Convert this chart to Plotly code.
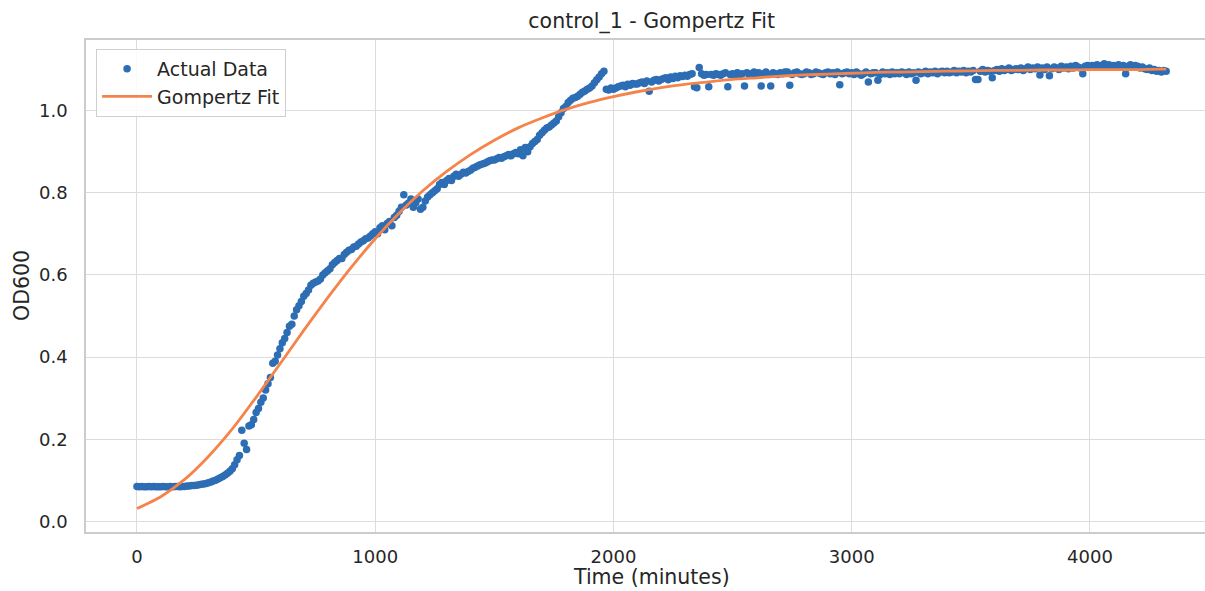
import plotly.graph_objects as go

# ---------------- data ----------------
time_min = list(range(0, 4321, 10))  # sampling times, minutes

od600 = [
    0.085, 0.084, 0.085, 0.084, 0.084, 0.085, 0.084, 0.085, 0.084, 0.084,
    0.084, 0.085, 0.084, 0.084, 0.085, 0.084, 0.085, 0.085, 0.084, 0.085,
    0.085, 0.086, 0.086, 0.087, 0.087, 0.088, 0.089, 0.090, 0.091, 0.092,
    0.094, 0.096, 0.098, 0.100, 0.103, 0.106, 0.109, 0.113, 0.117, 0.122,
    0.128, 0.138, 0.150, 0.160, 0.222, 0.190, 0.175, 0.232, 0.235, 0.248,
    0.265, 0.275, 0.290, 0.300, 0.320, 0.335, 0.350, 0.385, 0.390, 0.405,
    0.420, 0.435, 0.445, 0.460, 0.475, 0.480, 0.500, 0.515, 0.525, 0.535,
    0.548, 0.555, 0.563, 0.575, 0.580, 0.583, 0.585, 0.590, 0.600, 0.605,
    0.610, 0.615, 0.625, 0.630, 0.635, 0.640, 0.640, 0.650, 0.655, 0.660,
    0.662, 0.668, 0.670, 0.675, 0.680, 0.683, 0.688, 0.690, 0.695, 0.700,
    0.705, 0.700, 0.715, 0.720, 0.710, 0.725, 0.730, 0.720, 0.740, 0.745,
    0.755, 0.765, 0.795, 0.770, 0.775, 0.785, 0.765, 0.775, 0.785, 0.760,
    0.765, 0.780, 0.790, 0.795, 0.800, 0.805, 0.810, 0.820, 0.825, 0.820,
    0.830, 0.835, 0.830, 0.840, 0.845, 0.840, 0.845, 0.850, 0.848, 0.852,
    0.855, 0.860, 0.862, 0.865, 0.868, 0.870, 0.872, 0.875, 0.878, 0.880,
    0.880, 0.883, 0.886, 0.884, 0.888, 0.890, 0.893, 0.890, 0.895, 0.898,
    0.895, 0.905, 0.890, 0.910, 0.900, 0.912, 0.920, 0.925, 0.930, 0.940,
    0.946, 0.952, 0.958, 0.960, 0.965, 0.970, 0.975, 0.985, 0.995, 1.005,
    1.010, 1.020, 1.025, 1.030, 1.032, 1.035, 1.040, 1.045, 1.048, 1.052,
    1.055, 1.060, 1.068, 1.075, 1.082, 1.090, 1.096, 1.052, 1.050, 1.055,
    1.052, 1.055, 1.058, 1.060, 1.062, 1.058, 1.064, 1.062, 1.066, 1.065,
    1.065, 1.068, 1.070, 1.066, 1.072, 1.047, 1.070, 1.074, 1.076, 1.072,
    1.076, 1.078, 1.080, 1.075, 1.082, 1.078, 1.084, 1.080, 1.085, 1.083,
    1.086, 1.084, 1.088, 1.090, 1.058, 1.056, 1.105, 1.090, 1.086, 1.088,
    1.058, 1.088, 1.086, 1.090, 1.088, 1.086, 1.090, 1.092, 1.058, 1.088,
    1.090, 1.088, 1.092, 1.086, 1.090, 1.060, 1.092, 1.088, 1.090, 1.094,
    1.088, 1.092, 1.060, 1.090, 1.094, 1.088, 1.060, 1.092, 1.090, 1.088,
    1.092, 1.090, 1.094, 1.094, 1.062, 1.088, 1.092, 1.094, 1.090, 1.088,
    1.090, 1.094, 1.092, 1.088, 1.090, 1.094, 1.092, 1.090, 1.088, 1.092,
    1.094, 1.090, 1.092, 1.088, 1.094, 1.063, 1.090, 1.092, 1.094, 1.090,
    1.092, 1.088, 1.094, 1.090, 1.086, 1.090, 1.094, 1.070, 1.090, 1.092,
    1.092, 1.074, 1.088, 1.094, 1.090, 1.092, 1.088, 1.094, 1.090, 1.092,
    1.090, 1.094, 1.092, 1.088, 1.094, 1.090, 1.092, 1.074, 1.094, 1.090,
    1.092, 1.096, 1.090, 1.094, 1.092, 1.096, 1.090, 1.094, 1.096, 1.092,
    1.096, 1.092, 1.094, 1.098, 1.092, 1.096, 1.094, 1.098, 1.092, 1.096,
    1.094, 1.098, 1.076, 1.076, 1.096, 1.100, 1.094, 1.098, 1.096, 1.080,
    1.098, 1.100, 1.096, 1.102, 1.098, 1.100, 1.104, 1.098, 1.100, 1.102,
    1.100, 1.104, 1.098, 1.102, 1.106, 1.100, 1.104, 1.102, 1.106, 1.087,
    1.104, 1.100, 1.106, 1.085, 1.102, 1.106, 1.104, 1.100, 1.108, 1.104,
    1.106, 1.102, 1.108, 1.104, 1.110, 1.106, 1.104, 1.090, 1.108, 1.110,
    1.106, 1.110, 1.108, 1.112, 1.106, 1.110, 1.114, 1.108, 1.112, 1.106,
    1.110, 1.108, 1.112, 1.106, 1.110, 1.090, 1.108, 1.112, 1.106, 1.110,
    1.108, 1.104, 1.106, 1.102, 1.100, 1.104, 1.098, 1.100, 1.096, 1.098,
    1.094, 1.098, 1.096,
]

fit_time = [0, 100, 200, 300, 400, 500, 600, 700, 800, 900,
            1000, 1100, 1200, 1300, 1400, 1500, 1600, 1700, 1800, 1900,
            2000, 2100, 2200, 2300, 2400, 2500, 2600, 2700, 2800, 2900,
            3000, 3100, 3200, 3300, 3400, 3500, 3600, 3700, 3800, 3900,
            4000, 4100, 4200, 4300, 4320]
fit_od = [0.031, 0.060, 0.102, 0.158, 0.225, 0.302, 0.383, 0.465, 0.544, 0.619,
          0.688, 0.750, 0.805, 0.852, 0.893, 0.928, 0.958, 0.982, 1.003, 1.020,
          1.034, 1.046, 1.056, 1.064, 1.070, 1.076, 1.080, 1.084, 1.087, 1.089,
          1.091, 1.093, 1.094, 1.095, 1.096, 1.097, 1.098, 1.098, 1.099, 1.099,
          1.100, 1.100, 1.100, 1.101, 1.101]

x_ticks = [0, 1000, 2000, 3000, 4000]
y_ticks = [0.0, 0.2, 0.4, 0.6, 0.8, 1.0]

title_text = "control_1 - Gompertz Fit"
x_label = "Time (minutes)"
y_label = "OD600"

n = min(len(time_min), len(od600))

# ---------------- figure ----------------
BLUE = "#2d6db4"
ORANGE = "#f5844a"
GRID = "#dcdcdc"
TXT = "#262626"
FONT = "DejaVu Sans"

fig = go.Figure()
fig.add_trace(go.Scatter(
    x=time_min[:n], y=od600[:n], mode="markers", name="Actual Data",
    legendgroup="a",
    marker=dict(color=BLUE, size=7.5, line=dict(width=0)),
))
fig.add_trace(go.Scatter(
    x=fit_time, y=fit_od, mode="lines", name="Gompertz Fit",
    legendgroup="b",
    line=dict(color=ORANGE, width=2.8, shape="spline", smoothing=0.6),
))

fig.update_layout(
    width=1205, height=591,
    margin=dict(l=86, r=0, t=40, b=59),
    paper_bgcolor="white", plot_bgcolor="white",
    font=dict(family=FONT, size=18, color=TXT),
    showlegend=True,
    legend=dict(
        x=0.009, y=0.982, xanchor="left", yanchor="top",
        bgcolor="rgba(255,255,255,0.85)", bordercolor="#cfcfcf", borderwidth=1,
        font=dict(family=FONT, size=19, color=TXT),
        tracegroupgap=0, itemwidth=50,
    ),
    title=dict(
        text=title_text, x=0.5055, xref="paper", xanchor="center",
        y=1 - 21 / 591, yref="container", yanchor="middle",
        font=dict(family=FONT, size=20.5, color=TXT),
    ),
)

fig.update_xaxes(
    range=[-214, 4483], tickvals=x_ticks, ticktext=[str(v) for v in x_ticks],
    showgrid=True, gridcolor=GRID, gridwidth=1.2, zeroline=False,
    showline=True, linecolor="#cccccc", linewidth=1.5, mirror=True,
    ticks="outside", ticklen=8, tickcolor="rgba(0,0,0,0)",
    tickfont=dict(family=FONT, size=18, color=TXT),
)
fig.update_yaxes(
    range=[-0.026, 1.172], tickvals=y_ticks, ticktext=[f"{v:.1f}" for v in y_ticks],
    showgrid=True, gridcolor=GRID, gridwidth=1.2, zeroline=False,
    showline=True, linecolor="#cccccc", linewidth=1.5, mirror=False,
    ticks="outside", ticklen=13, tickcolor="rgba(0,0,0,0)",
    tickfont=dict(family=FONT, size=18, color=TXT),
)

# axis titles placed as text
fig.add_annotation(
    text=x_label, xref="paper", yref="paper", x=0.5055, y=-45 / 492,
    xanchor="center", yanchor="middle", showarrow=False,
    font=dict(family=FONT, size=20.5, color=TXT),
)
fig.add_annotation(
    text=y_label, xref="paper", yref="paper", x=(22 - 86) / 1119, y=0.5,
    xanchor="center", yanchor="middle", showarrow=False, textangle=-90,
    font=dict(family=FONT, size=20.5, color=TXT),
)

fig.write_html("out.html")
